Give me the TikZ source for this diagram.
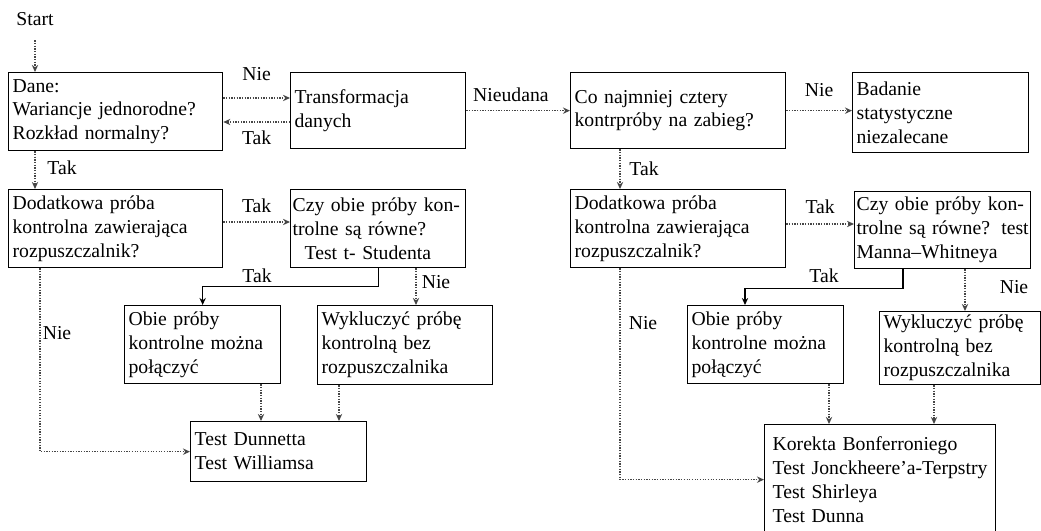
\documentclass[tikz,border=0pt]{standalone}
\usepackage{fontspec}
\setmainfont{Liberation Serif}
\usetikzlibrary{arrows.meta, positioning, calc}
\definecolor{dotgray}{RGB}{70, 70, 70}

\begin{document}
\begin{tikzpicture}[x=0.025cm, y=-0.025cm,
    box/.style={draw, line width=0.9pt, anchor=north west, align=left, inner xsep=0.1cm, inner ysep=2pt, font=\fontsize{14}{17}\selectfont},
    lbl/.style={font=\fontsize{14}{17}\selectfont, inner sep=0pt, text height=0.3cm, text depth=0pt},
    flow/.style={densely dotted, line width=0.9pt, draw=dotgray, -{Stealth[length=5pt, width=4.5pt]}},
    flowsolid/.style={line width=0.8pt, -{Stealth[length=5pt, width=4.5pt]}}]
  \useasboundingbox (0,0) rectangle (1041,531);

  % Start
  \node[lbl] (start) at (35,20) {Start};

  % Row 1
  \node[box, text width=5.15cm, minimum height=1.95cm] (dane) at (8,72) {Dane:\\Wariancje jednorodne?\\Rozkład normalny?};
  \node[box, text width=4.175cm, minimum height=1.9cm] (transf) at (290,72) {Transformacja\\danych};
  \node[box, text width=5.175cm, minimum height=1.9cm] (cztery) at (570,72) {Co najmniej cztery\\kontrpróby na zabieg?};
  \node[box, text width=4.2cm, minimum height=2cm] (badanie) at (852,72) {Badanie\\statystyczne\\niezalecane};

  % Row 2
  \node[box, text width=5.15cm, minimum height=1.95cm] (dodL) at (8,189) {Dodatkowa próba\\kontrolna zawierająca\\rozpuszczalnik?};
  \node[box, inner xsep=0.05cm, text width=4.275cm, minimum height=1.95cm] (czyL) at (290,189) {Czy obie próby kon-\\trolne są równe?\\\hspace*{0.3cm}Test t- Studenta};
  \node[box, text width=5.175cm, minimum height=1.95cm] (dodR) at (570,189) {Dodatkowa próba\\kontrolna zawierająca\\rozpuszczalnik?};
  \node[box, inner xsep=0.05cm, text width=4.3cm, minimum height=1.925cm] (czyR) at (854,191) {Czy obie próby kon-\\trolne są równe?\hfill test\\Manna–Whitneya};

  % Row 3
  \node[box, text width=3.7cm, minimum height=1.95cm] (obieL) at (124,305) {Obie próby\\kontrolne można\\połączyć};
  \node[box, text width=4.175cm, minimum height=1.975cm] (wyklL) at (317,305) {Wykluczyć próbę\\kontrolną bez\\rozpuszczalnika};
  \node[box, text width=3.7cm, minimum height=1.95cm] (obieR) at (687,305) {Obie próby\\kontrolne można\\połączyć};
  \node[box, text width=3.825cm, minimum height=1.825cm] (wyklR) at (879,311) {Wykluczyć próbę\\kontrolną bez\\rozpuszczalnika};

  % Row 4
  \node[box, text width=4.2cm, minimum height=1.5cm] (dunnett) at (190,421) {Test Dunnetta\\Test Williamsa};
  \node[box, inner xsep=0.2cm, text width=5.375cm, minimum height=2.75cm] (korekta) at (764,424) {Korekta Bonferroniego\\Test Jonckheere’a-Terpstry\\Test Shirleya\\Test Dunna};

  % Helper points
  \coordinate (d1) at ($(dane.north east)+(0,26)$);
  \coordinate (d2) at ($(dane.south west)+(27,0)$);
  \coordinate (t1) at ($(transf.north west)+(0,50)$);
  \coordinate (c1) at ($(cztery.south west)+(50,0)$);
  \coordinate (p1) at ($(dodL.north east)+(0,33)$);
  \coordinate (p2) at ($(dodR.north east)+(0,35)$);
  \coordinate (q1) at ($(czyL.south west)+(126,0)$);
  \coordinate (q2) at ($(czyR.south west)+(49,0)$);
  \coordinate (r2) at ($(obieR.north west)+(58,0)$);
  \coordinate (q4) at ($(czyR.south west)+(111,0)$);
  \coordinate (n1) at ($(dodL.south west)+(32,0)$);
  \coordinate (n2) at ($(dodR.south west)+(50,0)$);
  \coordinate (m1) at ($(obieL.south west)+(137,0)$);
  \coordinate (m2) at ($(wyklL.south west)+(22,0)$);
  \coordinate (m3) at ($(obieR.south west)+(142,0)$);
  \coordinate (m4) at ($(wyklR.south west)+(55,0)$);

  % Top row arrows
  \draw[flow] ([yshift=-0.35cm]start.south) -- (start.south |- dane.north);
  \draw[flow] (d1) -- (d1 -| transf.west) node[lbl, midway, yshift=0.575cm] (nie1) {Nie};
  \draw[flow] (t1) -- (t1 -| dane.east) node[lbl, midway, yshift=-0.4cm] (tak1) {Tak};
  \draw[flow] (transf.east) -- (cztery.west) node[lbl, pos=0.43, yshift=0.375cm] (nieudana) {Nieudana};
  \draw[flow] (cztery.east) -- (cztery.east -| badanie.west) node[lbl, midway, yshift=0.5cm] (nie2) {Nie};

  % Down to row 2
  \draw[flow] (d2) -- (d2 |- dodL.north) node[lbl, midway, xshift=0.675cm, yshift=0.05cm] (tak2) {Tak};
  \draw[flow] (c1) -- (c1 |- dodR.north) node[lbl, midway, xshift=0.6cm] (tak3) {Tak};
  \draw[flow] (p1) -- (p1 -| czyL.west) node[lbl, midway, yshift=0.375cm] (tak4) {Tak};
  \draw[flow] (p2) -- (p2 -| czyR.west) node[lbl, midway, yshift=0.4cm] (tak5) {Tak};

  % Left branch
  \draw[flowsolid] (czyL.south) -- ++(0,18) -| (obieL.north) node[lbl, pos=0.345, yshift=0.25cm] (tak6) {Tak};
  \draw[flow] (q1) -- (q1 |- wyklL.north) node[lbl, midway, xshift=0.5cm, yshift=0.1cm] (nie3) {Nie};
  \draw[flow] (n1) |- (dunnett.west) node[lbl, pos=0.177, xshift=0.425cm] (nie4) {Nie};
  \draw[flow] (m1) -- (m1 |- dunnett.north);
  \draw[flow] (m2) -- (m2 |- dunnett.north);

  % Right branch
  \draw[flowsolid] (q2) -- ++(0,19) -| (r2) node[lbl, pos=0.25, yshift=0.3cm] (tak7) {Tak};
  \draw[flow] (q4) -- (q4 |- wyklR.north) node[lbl, midway, xshift=1.225cm, yshift=0.075cm] (nie5) {Nie};
  \draw[flow] (n2) |- (korekta.west) node[lbl, pos=0.13, xshift=0.575cm] (nie6) {Nie};
  \draw[flow] (m3) -- (m3 |- korekta.north);
  \draw[flow] (m4) -- (m4 |- korekta.north);
\end{tikzpicture}
\end{document}
